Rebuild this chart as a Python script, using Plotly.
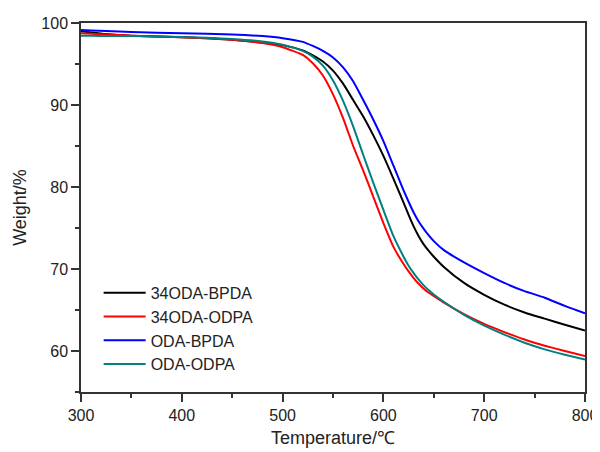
import plotly.graph_objects as go

temperature = [300, 310, 325, 350, 400, 450, 480, 500, 520, 530, 540, 550, 560, 570, 580,
               590, 600, 610, 620, 625, 630, 635, 640, 645, 650, 660, 680, 700, 720, 740,
               760, 780, 800]

w_34oda_bpda = [99.0, 98.85, 98.65, 98.45, 98.25, 97.95, 97.6, 97.3, 96.65, 96.05, 95.3, 94.2, 92.6,
                90.6, 88.6, 86.3, 83.8, 81.0, 78.1, 76.6, 75.2, 74.0, 73.0, 72.2, 71.5, 70.25,
                68.3, 66.85, 65.65, 64.7, 63.95, 63.2, 62.5]
w_34oda_odpa = [98.75, 98.68, 98.6, 98.45, 98.25, 97.95, 97.55, 97.05, 96.1, 95.1, 93.6, 91.3, 88.4,
                85.0, 82.0, 78.8, 75.6, 72.7, 70.6, 69.7, 68.9, 68.2, 67.6, 67.1, 66.7, 65.9,
                64.5, 63.3, 62.3, 61.4, 60.65, 60.0, 59.4]
w_oda_bpda = [99.15, 99.1, 99.02, 98.9, 98.75, 98.6, 98.4, 98.15, 97.7, 97.2, 96.6, 95.8, 94.6,
              92.9, 90.6, 88.2, 85.6, 82.6, 79.6, 78.2, 76.9, 75.8, 74.9, 74.1, 73.4, 72.3,
              70.8, 69.5, 68.3, 67.3, 66.5, 65.5, 64.6]
w_oda_odpa = [98.45, 98.44, 98.42, 98.4, 98.3, 98.05, 97.75, 97.35, 96.6, 95.9, 94.8, 93.0, 90.5,
              87.4, 83.9, 80.5, 77.2, 74.0, 71.5, 70.4, 69.5, 68.7, 68.0, 67.4, 66.9, 66.0,
              64.4, 63.1, 62.0, 61.0, 60.2, 59.55, 58.95]

series_names = ["34ODA-BPDA", "34ODA-ODPA", "ODA-BPDA", "ODA-ODPA"]
series_values = [w_34oda_bpda, w_34oda_odpa, w_oda_bpda, w_oda_odpa]
series_colors = ["#000000", "#ff0000", "#0000ff", "#008080"]

fig = go.Figure()
for name, vals, col in zip(series_names, series_values, series_colors):
    fig.add_trace(go.Scatter(x=temperature, y=vals, mode="lines", name=name,
                             line=dict(color=col, width=2, shape="spline", smoothing=0.5)))

font_family = "Liberation Sans, Arial, sans-serif"
axis_common = dict(
    showline=True, linewidth=1.5, linecolor="#333333", mirror=True,
    ticks="outside", ticklen=8, tickwidth=1.5, tickcolor="#333333",
    showgrid=False, zeroline=False, automargin=False,
    tickfont=dict(family=font_family, size=16, color="#222222"),
)

# page body has an 8px margin, so the figure is sized to fit the 600x452 window
fig.update_layout(
    width=592, height=444,
    margin=dict(l=73, r=15, t=15, b=60),
    paper_bgcolor="white", plot_bgcolor="white",
    font=dict(family=font_family, color="#222222"),
    xaxis=dict(range=[300, 800], dtick=100, tick0=300,
               minor=dict(dtick=50, ticklen=4, tickwidth=1.5, tickcolor="#333333", ticks="outside"),
               title=dict(text="Temperature/℃", font=dict(size=18), standoff=8),
               **axis_common),
    yaxis=dict(range=[55, 100], dtick=10, tick0=0,
               minor=dict(dtick=5, ticklen=4, tickwidth=1.5, tickcolor="#333333", ticks="outside"),
               title=dict(text="Weight/%", font=dict(size=18), standoff=10),
               **axis_common),
    legend=dict(x=0.035, y=0.315, xanchor="left", yanchor="top",
                font=dict(family=font_family, size=16, color="#222222"),
                bgcolor="rgba(0,0,0,0)", tracegroupgap=0, itemwidth=42),
    showlegend=True,
)

fig.write_html("out.html")
